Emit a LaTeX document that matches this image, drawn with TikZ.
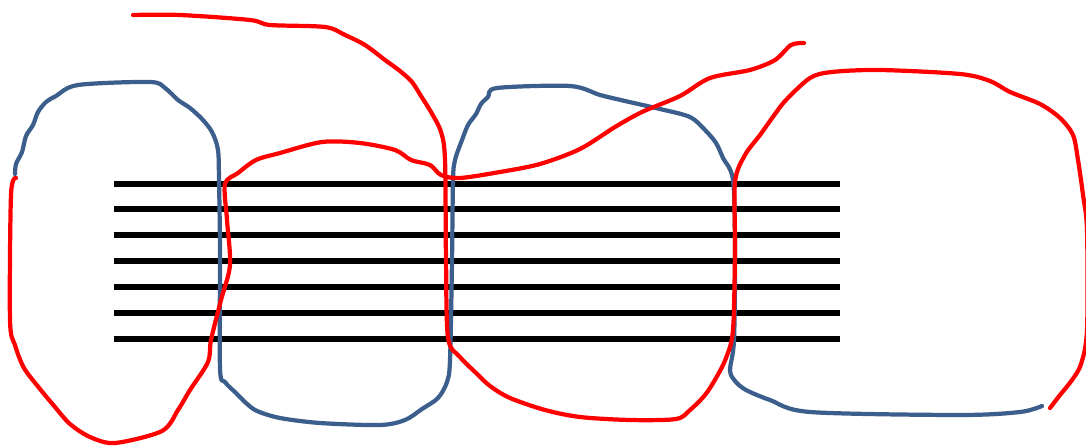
\documentclass[tikz,border=0pt]{standalone}
\definecolor{bluec}{HTML}{3B5E8C}
\definecolor{redc}{HTML}{FF0000}
\tikzset{
  hline/.style={line width=1.45pt, black},
  bluecurve/.style={line width=1.2pt, bluec, line cap=round, line join=round},
  redcurve/.style={line width=1.2pt, redc, line cap=round, line join=round}
}
\begin{document}
\begin{tikzpicture}[x=0.01cm,y=-0.01cm]
\useasboundingbox (0,0) rectangle (1086,446);
\clip (0,0) rectangle (1086,446);
% horizontal lines
\foreach \yy in {184,209,235,261,287,313,339}
  \draw[hline] (114,\yy) -- (840,\yy);
% blue curve
\draw[bluecurve] plot[smooth, tension=0.5] coordinates {
 (15,174) (16,164) (22,152) (26,136) (33,125) (38,112) (46,102) (56,96)
 (78,85) (150,82) (165,88) (178,100) (190,108) (202,119) (212,132) (218,150)
 (219,180) (220,250) (220,368) (225,382) (236,393) (246,403) (257,411)
 (280,418) (320,423) (380,425) (405,420) (422,409) (438,398) (447,382)
 (450,360) (452,260) (453,180) (455,160) (462,140) (468,125) (476,114)
 (481,104) (488,97) (497,88) (570,86) (600,95) (625,101) (660,109)
 (690,117) (705,130) (716,143) (723,158) (733,180) (735,250) (734,340)
 (730,370) (735,381) (746,390) (770,400) (810,412) (960,415) (1020,412) (1042,406)};
% red curve 1
\draw[redcurve] plot[smooth, tension=0.5] coordinates {
 (16,178) (11,195) (10,320) (15,345) (24,368) (40,389) (55,407) (70,424)
 (90,437) (115,443) (162,431) (178,410) (190,390) (208,362) (211,340)
 (221,300) (230,265) (227,220) (225,184) (238,173) (256,160) (280,153)
 (322,142) (360,143) (395,150) (411,160) (430,165) (441,175) (460,178)
 (500,172) (540,164) (580,149) (615,127) (642,112) (680,96) (710,78)
 (750,70) (775,60) (791,45) (804,43)};
% red curve 2
\draw[redcurve] plot[smooth, tension=0.5] coordinates {
 (133,15) (180,15) (250,20) (270,25) (325,27) (345,35) (365,45) (385,60)
 (400,71) (412,82) (421,96) (431,112) (441,132) (445,160) (446,260)
 (448,338) (460,357) (475,372) (490,386) (510,398) (545,410) (580,417)
 (630,420) (676,419) (690,410) (705,395) (716,378) (726,358) (733,330)
 (735,250) (735,182) (745,155) (760,135) (775,114) (786,100) (810,78)
 (832,72) (880,70) (960,74) (990,81) (1010,92) (1040,104) (1060,118)
 (1073,135) (1078,160) (1083,195) (1087,230) (1087,330) (1081,364)
 (1072,380) (1060,395) (1050,408)};
\end{tikzpicture}
\end{document}
